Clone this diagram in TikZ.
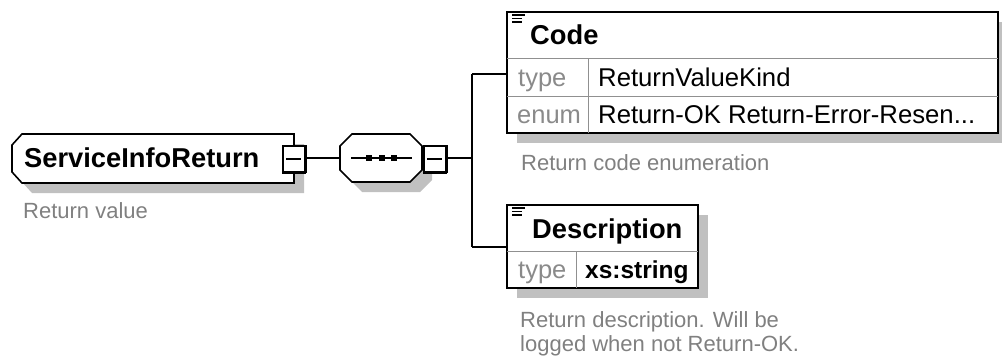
\documentclass[tikz,border=0pt]{standalone}
\usepackage{fontspec}
\setmainfont{Liberation Sans}
\definecolor{shadowgray}{HTML}{C0C0C0}
\definecolor{capgray}{HTML}{808080}
\definecolor{labgray}{HTML}{8A8A8A}
\definecolor{divgray}{HTML}{909090}
\tikzset{
  shadowfill/.style={fill=shadowgray, draw=none},
  boxline/.style={draw=black, line width=1.6pt, fill=white, line join=miter},
  divline/.style={draw=divgray, line width=1pt},
  conn/.style={draw=black, line width=1.6pt},
  mbox/.style={draw=black, line width=1.6pt, fill=white, minimum width=22pt, minimum height=26pt, inner sep=0pt},
  boldtxt/.style={font=\fontsize{27.3}{30}\selectfont\bfseries, inner sep=0pt, anchor=base west},
  maintxt/.style={font=\fontsize{25.7}{29}\selectfont, inner sep=0pt, anchor=base west},
  labtxt/.style={font=\fontsize{25.5}{29}\selectfont, text=labgray, inner sep=0pt, anchor=base west},
  captxt/.style={font=\fontsize{22}{24}\selectfont, text=capgray, inner sep=0pt, anchor=base west},
}
\begin{document}
\begin{tikzpicture}[x=1pt,y=-1pt]
\useasboundingbox (0,0) rectangle (1002,356);
% ---------- shadows ----------
\fill[shadowfill] (32,144) -- (304,144) -- (304,193) -- (32,193) -- (22,182) -- (22,155) -- cycle;
\fill[shadowfill] (362,144) -- (420,144) -- (432,156) -- (432,180) -- (420,192) -- (362,192) -- (350,180) -- (350,156) -- cycle;
\fill[shadowfill] (517,22) rectangle (1008,143);
\fill[shadowfill] (517,215) rectangle (708,298);
% ---------- connectors ----------
\coordinate (vtop) at (472,74);
\coordinate (vbot) at (472,247);
\coordinate (vmid) at (472,158);
% ---------- element ServiceInfoReturn ----------
\draw[boxline] (22,134) -- (294,134) -- (294,183) -- (22,183) -- (12,172) -- (12,145) -- cycle;
\node[boldtxt] (sir) at (24,167) {ServiceInfoReturn};
\node[captxt] (sircap) at (23,218) {Return value};
\node[mbox] (m1) at (294,159) {};
\draw[line width=3pt] ([xshift=-0.8pt]m1.north east) -- ([xshift=-0.8pt]m1.south east);
\draw[line width=3pt] ([yshift=0.8pt]m1.south west) -- ([yshift=0.8pt]m1.south east);
\draw[line width=1.6pt] ([xshift=4pt]m1.west) -- ([xshift=-5pt]m1.east);
% ---------- sequence compositor ----------
\draw[boxline] (352,134) -- (410,134) -- (422,146) -- (422,170) -- (410,182) -- (352,182) -- (340,170) -- (340,146) -- cycle;
\coordinate (seqw) at (340,158);
\draw[line width=1.6pt] (351,158) -- (412,158);
\fill (366,155) rectangle (372,161);
\fill (379,155) rectangle (385,161);
\fill (391,155) rectangle (397,161);
\node[mbox] (m2) at (435,159) {};
\draw[line width=3pt] ([xshift=-0.8pt]m2.north east) -- ([xshift=-0.8pt]m2.south east);
\draw[line width=3pt] ([yshift=0.8pt]m2.south west) -- ([yshift=0.8pt]m2.south east);
\draw[line width=1.6pt] ([xshift=4pt]m2.west) -- ([xshift=-5pt]m2.east);
% connectors
\draw[conn] (m1.east |- vmid) -- (seqw);
\draw[conn] (m2.east |- vmid) -- (vmid);
\draw[conn] (vtop) -- (vbot);
% ---------- Code ----------
\draw[boxline] (507,12) rectangle (998,133);
\coordinate (codew) at (507,74);
\draw[divline] (507,58) -- (998,58);
\draw[divline] (507,96) -- (998,96);
\draw[divline] (588,58) -- (588,133);
\draw[conn] (vtop) -- (codew);
\draw[line width=1.2pt] (512,15) -- (525,15) (512,18.5) -- (522,18.5) (512,22) -- (522,22);
\node[boldtxt] (code) at (530,45) {Code};
\node[labtxt] (ctype) at (518,86) {type};
\node[maintxt] (ctypev) at (598,86) {ReturnValueKind};
\node[labtxt] (cenum) at (517,123) {enum};
\node[maintxt] (cenumv) at (598,123) {Return-OK Return-Error-Resen...};
\node[captxt] (ccap) at (521,170) {Return code enumeration};
% ---------- Description ----------
\draw[boxline] (507,205) rectangle (698,288);
\coordinate (descw) at (507,247);
\draw[divline] (507,251) -- (698,251);
\draw[divline] (576,251) -- (576,288);
\draw[conn] (vbot) -- (descw);
\draw[line width=1.2pt] (512,208) -- (525,208) (512,211.5) -- (522,211.5) (512,215) -- (522,215);
\node[boldtxt] (desc) at (532,238) {Description};
\node[labtxt] (dtype) at (518,278) {type};
\node[boldtxt, font=\fontsize{24.5}{28}\selectfont\bfseries] (dtypev) at (585,278) {xs:string};
\node[captxt] (dcap1) at (520,327) {Return description. Will be};
\node[captxt] (dcap2) at (520,351) {logged when not Return-OK.};
\end{tikzpicture}
\end{document}
